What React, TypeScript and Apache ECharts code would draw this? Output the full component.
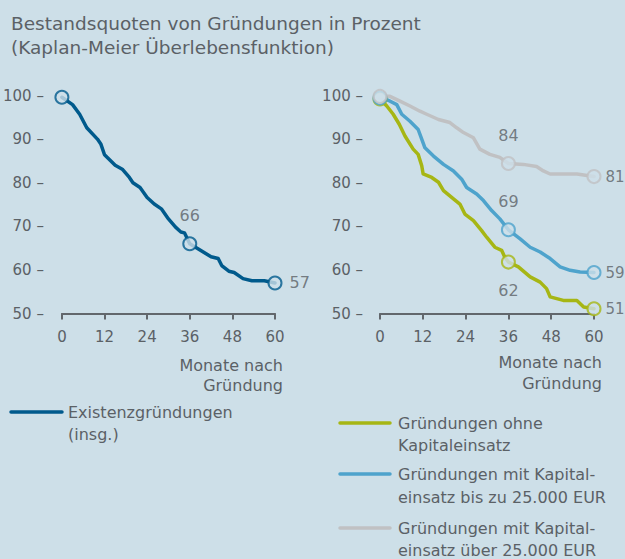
import React, { useEffect, useRef } from "react";
import * as echarts from "echarts";

// ---------- data ----------
const titleLines = ["Bestandsquoten von Gründungen in Prozent", "(Kaplan-Meier Überlebensfunktion)"];
const axisNameLines = ["Monate nach", "Gründung"];
const xTicks = [0, 12, 24, 36, 48, 60];
const yTicks = [50, 60, 70, 80, 90, 100];

// Left: Existenzgründungen (insg.)
const monthsAll = [0, 3, 5, 7, 10, 11, 12, 15, 17, 19, 20, 22, 24, 26, 28, 30, 32, 33.5, 34.5, 36, 39, 42, 44, 45, 47, 48.5, 51, 53.5, 57, 60];
const valuesAll = [99.6, 97.9, 95.7, 92.6, 90.0, 88.8, 86.4, 84.0, 83.1, 81.2, 80.0, 78.9, 76.6, 75.1, 74.0, 71.7, 69.8, 68.7, 68.5, 66.0, 64.5, 63.0, 62.6, 61.0, 59.7, 59.4, 58.0, 57.5, 57.5, 57.0];

// Right: Gründungen ohne Kapitaleinsatz
const monthsOhne = [0, 1.9, 3.7, 5.4, 7, 9.3, 10.7, 11.7, 12.1, 14.5, 16.4, 17.8, 20.6, 22.4, 23.8, 26.2, 28.5, 29.9, 32.2, 34.1, 35, 36, 38.8, 42.1, 44.9, 46.7, 47.7, 51.4, 55.2, 57.1, 60];
const valuesOhne = [99.2, 97.6, 95.7, 93.4, 90.7, 87.7, 86.5, 83.9, 82.0, 81.2, 80.1, 78.2, 76.3, 75.1, 72.8, 71.3, 69.0, 67.5, 65.2, 64.5, 62.9, 61.8, 60.7, 58.4, 57.2, 55.7, 53.8, 53.0, 53.0, 51.5, 51.1];

// Right: Gründungen mit Kapitaleinsatz bis zu 25.000 EUR
const monthsBis = [0, 2.3, 4.7, 6.1, 8.4, 10.7, 11.7, 12.6, 15, 17.8, 20.6, 22.9, 24.3, 27.1, 29, 31.3, 33.6, 36, 39.3, 42.1, 44.9, 47.7, 50.5, 53.3, 56.1, 60];
const valuesBis = [99.4, 98.9, 97.9, 95.7, 94.1, 92.2, 90.0, 88.0, 86.1, 84.2, 82.7, 80.8, 78.9, 77.4, 75.9, 73.6, 71.7, 69.2, 67.1, 65.2, 64.1, 62.6, 60.7, 59.9, 59.5, 59.4];

// Right: Gründungen mit Kapitaleinsatz über 25.000 EUR
const monthsUeber = [0, 2.8, 5.6, 8.4, 11.2, 13.1, 16.4, 19.6, 21.5, 23.4, 26.2, 28, 30.8, 33.6, 36, 40.2, 43.9, 45.8, 47.7, 55.2, 60];
const valuesUeber = [99.8, 99.8, 98.7, 97.6, 96.4, 95.7, 94.5, 93.8, 92.6, 91.5, 90.3, 87.7, 86.5, 85.8, 84.4, 84.2, 83.7, 82.7, 82.0, 82.0, 81.4];

const markerMonths = [0, 36, 60];

const legendLeft = [["Existenzgründungen", "(insg.)"]];
const legendRight = [
  ["Gründungen ohne", "Kapitaleinsatz"],
  ["Gründungen mit Kapital-", "einsatz bis zu 25.000 EUR"],
  ["Gründungen mit Kapital-", "einsatz über 25.000 EUR"],
];

// ---------- styles ----------
const BG = "#cddfe8";
const TXT = "#5b6166";
const AXIS = "#62676c";
const FONT = '"DejaVu Sans", "Liberation Sans", Arial, sans-serif';
const C_ALL = "#005a8c";
const C_OHNE = "#a6b614";
const C_BIS = "#4ea3cc";
const C_UEBER = "#c0c1c3";

function pairs(ms: number[], vs: number[]) {
  return ms.map((m, i) => [m, vs[i]]);
}

function lineSeries(name: string, ms: number[], vs: number[], color: string, gi: number) {
  return {
    name,
    type: "line",
    xAxisIndex: gi,
    yAxisIndex: gi,
    data: pairs(ms, vs),
    symbol: "none",
    lineStyle: { color, width: 3.5, join: "round", cap: "round" },
    z: 2,
  };
}

function markerSeries(ms: number[], vs: number[], color: string, gi: number, positions: string[]) {
  const data = markerMonths.map((m, k) => {
    const idx = ms.indexOf(m);
    const pos = positions[k];
    const edge = pos === "right" && gi === 1;
    return {
      value: [m, vs[idx]],
      label: {
        show: pos !== "none",
        position: pos === "none" ? "top" : pos,
        distance: pos === "right" ? (edge ? 4 : 7) : 13,
        fontSize: edge ? 15 : 16,
      },
    };
  });
  return {
    type: "scatter",
    xAxisIndex: gi,
    yAxisIndex: gi,
    data,
    symbol: "circle",
    symbolSize: 13,
    itemStyle: { color: BG, borderColor: color, borderWidth: 2 },
    label: {
      color: TXT,
      fontSize: 16,
      fontFamily: FONT,
      formatter: (p: any) => String(Math.round(p.value[1])),
    },
    z: 5,
  };
}

function xAxis(gi: number) {
  return {
    gridIndex: gi,
    type: "value",
    min: xTicks[0],
    max: xTicks[xTicks.length - 1],
    interval: xTicks[1] - xTicks[0],
    axisLine: { show: true, lineStyle: { color: AXIS, width: 2 } },
    axisTick: { show: true, length: 6, lineStyle: { color: AXIS, width: 2 } },
    axisLabel: { color: TXT, fontSize: 15, fontFamily: FONT, margin: 16 },
    splitLine: { show: false },
  };
}

function yAxis(gi: number, margin: number) {
  return {
    gridIndex: gi,
    type: "value",
    min: yTicks[0],
    max: yTicks[yTicks.length - 1],
    interval: yTicks[1] - yTicks[0],
    axisLine: { show: false },
    axisTick: { show: false },
    splitLine: { show: false },
    axisLabel: { color: TXT, fontSize: 15, fontFamily: FONT, margin, formatter: "{value} –" },
  };
}

function txt(text: string, x: number, y: number, size: number, align = "left") {
  return {
    type: "text",
    x,
    y,
    silent: true,
    style: { text, fill: TXT, fontSize: size, fontFamily: FONT, align, verticalAlign: "middle" },
  };
}

function legendLine(x1: number, x2: number, y: number, color: string) {
  return {
    type: "line",
    silent: true,
    shape: { x1, y1: y, x2, y2: y },
    style: { stroke: color, lineWidth: 3.5, lineCap: "round" },
  };
}

export default function App() {
  const ref = useRef<HTMLDivElement>(null);
  useEffect(() => {
    document.body.style.margin = "0";
    if (!ref.current) return;
    const chart = echarts.init(ref.current, undefined, { renderer: "svg" });
    const rightColors = [C_OHNE, C_BIS, C_UEBER];
    const rightLegendY = [[423, 445], [474, 497], [528, 550]];
    const graphic: any[] = [
      txt(titleLines[0], 11, 23, 18.5),
      txt(titleLines[1], 11, 47, 18.5),
      txt(axisNameLines[0], 283, 365, 16, "right"),
      txt(axisNameLines[1], 283, 385, 16, "right"),
      txt(axisNameLines[0], 602, 362, 16, "right"),
      txt(axisNameLines[1], 602, 383, 16, "right"),
      legendLine(11, 62, 412, C_ALL),
      txt(legendLeft[0][0], 68, 412, 16),
      txt(legendLeft[0][1], 68, 434, 16),
    ];
    legendRight.forEach((lines, i) => {
      graphic.push(legendLine(340, 390, rightLegendY[i][0], rightColors[i]));
      graphic.push(txt(lines[0], 398, rightLegendY[i][0], 16));
      graphic.push(txt(lines[1], 398, rightLegendY[i][1], 16));
    });

    chart.setOption({
      animation: false,
      backgroundColor: BG,
      textStyle: { fontFamily: FONT },
      grid: [
        { left: 60, top: 95.5, width: 215, height: 218 },
        { left: 380, top: 95.5, width: 214, height: 218 },
      ],
      xAxis: [xAxis(0), xAxis(1)],
      yAxis: [yAxis(0, 18), yAxis(1, 17)],
      series: [
        lineSeries("Existenzgründungen", monthsAll, valuesAll, C_ALL, 0),
        markerSeries(monthsAll, valuesAll, C_ALL, 0, ["none", "top", "right"]),
        lineSeries("ohne", monthsOhne, valuesOhne, C_OHNE, 1),
        lineSeries("bis", monthsBis, valuesBis, C_BIS, 1),
        lineSeries("ueber", monthsUeber, valuesUeber, C_UEBER, 1),
        markerSeries(monthsOhne, valuesOhne, C_OHNE, 1, ["none", "bottom", "right"]),
        markerSeries(monthsBis, valuesBis, C_BIS, 1, ["none", "top", "right"]),
        markerSeries(monthsUeber, valuesUeber, C_UEBER, 1, ["none", "top", "right"]),
      ],
      graphic,
    });
    return () => chart.dispose();
  }, []);
  return (
    <div
      ref={ref}
      style={{ position: "absolute", left: 0, top: 0, width: 625, height: 559, background: BG }}
    />
  );
}
